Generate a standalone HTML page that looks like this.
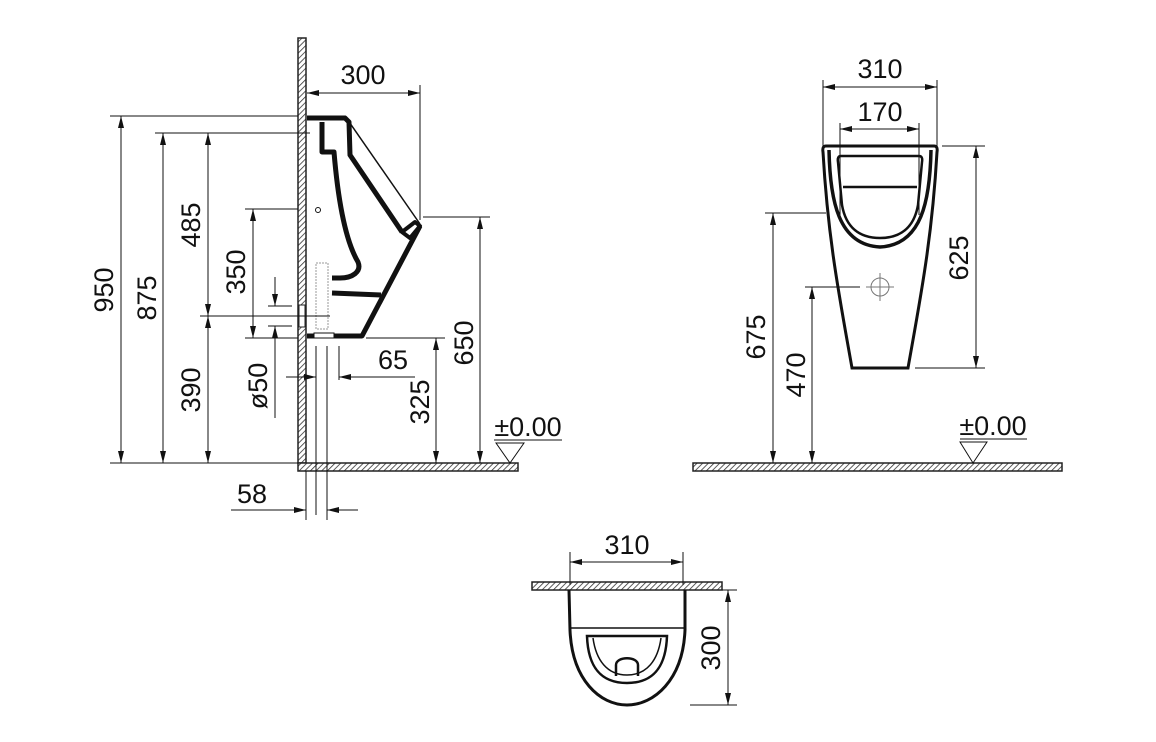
<!DOCTYPE html>
<html><head><meta charset="utf-8"><style>
html,body{margin:0;padding:0;background:#fff;}
svg{display:block;}
text{font-family:"Liberation Sans",sans-serif;font-size:27px;fill:#111;}
</style></head><body>
<svg width="1156" height="742" viewBox="0 0 1156 742" xmlns="http://www.w3.org/2000/svg">
<defs>
<pattern id="h" width="4" height="4" patternUnits="userSpaceOnUse" patternTransform="rotate(45)">
<rect width="4" height="4" fill="#fff"/><line x1="0" y1="0" x2="0" y2="4" stroke="#333" stroke-width="1.6"/></pattern>
<marker id="a" markerWidth="12" markerHeight="6" refX="12" refY="3" orient="auto-start-reverse" markerUnits="userSpaceOnUse">
<path d="M0,0 L12,3 L0,6 Z" fill="#111"/></marker>
</defs>
<g stroke="#111" fill="none" stroke-width="1">
<rect x="298" y="38" width="8" height="425" fill="url(#h)" stroke="#222" stroke-width="1.5"/>
<rect x="298" y="463" width="220" height="8" fill="url(#h)" stroke="#222" stroke-width="1.5"/>
<rect x="299" y="305" width="6" height="22" fill="#fff" stroke="#222"/>
<g stroke-width="5" stroke-linejoin="round">
<path d="M307,118 L345,118 L349,122 L350,155 L402,232"/>
<path d="M420,226 L362,336 L307,336"/>
<path d="M322,122 L322,152 L334,152 C338,200 345,240 358,262 C362,272 352,278 340,278 L332,278"/>
<path d="M332,293 L381,295"/>
<path d="M402,232 L415,222 L420,226 L410,238 Z" stroke-width="4"/>
</g>
<path d="M345,116 L420,224" stroke-width="1.5"/>
<circle cx="318" cy="210" r="2.5"/>
<rect x="316" y="263" width="12" height="66" stroke="#999" stroke-dasharray="2,1"/>
<rect x="314" y="333" width="20" height="5" fill="#fff"/>
<line x1="110" y1="116" x2="298" y2="116"/>
<line x1="155" y1="133" x2="310" y2="133"/>
<line x1="110" y1="463" x2="298" y2="463"/>
<line x1="121" y1="116" x2="121" y2="463" marker-start="url(#a)" marker-end="url(#a)"/>
<line x1="163" y1="133" x2="163" y2="463" marker-start="url(#a)" marker-end="url(#a)"/>
<line x1="208" y1="133" x2="208" y2="316" marker-start="url(#a)" marker-end="url(#a)"/>
<line x1="208" y1="316" x2="208" y2="463" marker-start="url(#a)" marker-end="url(#a)"/>
<line x1="200" y1="316" x2="330" y2="316"/>
<line x1="245" y1="209" x2="298" y2="209"/>
<line x1="245" y1="338" x2="298" y2="338"/>
<line x1="253" y1="209" x2="253" y2="338" marker-start="url(#a)" marker-end="url(#a)"/>
<line x1="268" y1="306" x2="292" y2="306"/>
<line x1="268" y1="326" x2="292" y2="326"/>
<line x1="275" y1="277" x2="275" y2="306" marker-end="url(#a)"/>
<line x1="275" y1="418" x2="275" y2="326" marker-end="url(#a)"/>
<line x1="307" y1="93" x2="420" y2="93" marker-start="url(#a)" marker-end="url(#a)"/>
<line x1="420" y1="85" x2="420" y2="220"/>
<line x1="423" y1="217" x2="490" y2="217"/>
<line x1="480" y1="217" x2="480" y2="463" marker-start="url(#a)" marker-end="url(#a)"/>
<line x1="366" y1="338" x2="445" y2="338"/>
<line x1="436" y1="338" x2="436" y2="463" marker-start="url(#a)" marker-end="url(#a)"/>
<line x1="316" y1="346" x2="316" y2="515"/>
<line x1="339" y1="346" x2="339" y2="380"/>
<line x1="327" y1="346" x2="327" y2="520"/>
<line x1="286" y1="377" x2="316" y2="377" marker-end="url(#a)"/>
<line x1="415" y1="377" x2="339" y2="377" marker-end="url(#a)"/>
<line x1="306" y1="471" x2="306" y2="520"/>
<line x1="231" y1="510" x2="306" y2="510" marker-end="url(#a)"/>
<line x1="358" y1="510" x2="327" y2="510" marker-end="url(#a)"/>
<line x1="494" y1="440" x2="562" y2="440"/>
<path d="M496,443 L524,443 L510,463 Z"/>
<rect x="693" y="463" width="369" height="8" fill="url(#h)" stroke="#222" stroke-width="1.5"/>
<path d="M826,146 L934,146 Q938,146 937,152 C932,240 920,300 908,368 L852,368 C840,300 828,240 823,152 Q822,146 826,146 Z" stroke-width="3"/>
<path d="M829,150 C830,200 838,245 880,247 C922,245 930,200 931,150" stroke-width="3.5"/>
<path d="M841,156 L919,156 Q923,156 922,162 L918,205 C914,228 900,238 880,238 C860,238 846,228 842,205 L838,162 Q837,156 841,156 Z" stroke-width="2.5"/>
<line x1="843" y1="187" x2="917" y2="187" stroke-width="2.5"/>
<circle cx="880" cy="287" r="9" stroke="#777"/>
<line x1="866" y1="287" x2="894" y2="287" stroke="#777"/>
<line x1="880" y1="273" x2="880" y2="301" stroke="#777"/>
<line x1="823" y1="80" x2="823" y2="146"/>
<line x1="937" y1="80" x2="937" y2="146"/>
<line x1="823" y1="87" x2="937" y2="87" marker-start="url(#a)" marker-end="url(#a)"/>
<line x1="840" y1="123" x2="840" y2="215"/>
<line x1="919" y1="123" x2="919" y2="215"/>
<line x1="840" y1="129" x2="919" y2="129" marker-start="url(#a)" marker-end="url(#a)"/>
<line x1="942" y1="146" x2="985" y2="146"/>
<line x1="915" y1="368" x2="985" y2="368"/>
<line x1="976" y1="146" x2="976" y2="368" marker-start="url(#a)" marker-end="url(#a)"/>
<line x1="765" y1="213" x2="826" y2="213"/>
<line x1="773" y1="213" x2="773" y2="463" marker-start="url(#a)" marker-end="url(#a)"/>
<line x1="805" y1="287" x2="860" y2="287"/>
<line x1="812" y1="287" x2="812" y2="463" marker-start="url(#a)" marker-end="url(#a)"/>
<line x1="960" y1="439" x2="1027" y2="439"/>
<path d="M960,442 L987,442 L973,463 Z"/>
<rect x="532" y="582" width="190" height="8" fill="url(#h)" stroke="#222" stroke-width="1.5"/>
<path d="M569,590 L570,630 C572,680 600,705 627,705 C654,705 683,680 685,630 L685,590" stroke-width="3"/>
<line x1="571" y1="628" x2="684" y2="628" stroke-width="1.5"/>
<path d="M587,636 L667,636 C666,665 655,683 627,683 C599,683 588,665 587,636 Z" stroke-width="2.5"/>
<path d="M593,638 C596,660 607,675 627,675 C647,675 658,660 661,638" stroke-width="1.5"/>
<path d="M616,676 L616,665 C616,656 638,656 638,665 L638,676" stroke-width="2.5"/>
<line x1="570" y1="552" x2="570" y2="585"/>
<line x1="683" y1="552" x2="683" y2="585"/>
<line x1="570" y1="562" x2="683" y2="562" marker-start="url(#a)" marker-end="url(#a)"/>
<line x1="722" y1="590" x2="737" y2="590"/>
<line x1="690" y1="705" x2="737" y2="705"/>
<line x1="728" y1="590" x2="728" y2="705" marker-start="url(#a)" marker-end="url(#a)"/>
</g>
<g>
<text x="363" y="84" text-anchor="middle">300</text>
<text transform="translate(113,290) rotate(-90)" text-anchor="middle">950</text>
<text transform="translate(156,298) rotate(-90)" text-anchor="middle">875</text>
<text transform="translate(200,225) rotate(-90)" text-anchor="middle">485</text>
<text transform="translate(200,390) rotate(-90)" text-anchor="middle">390</text>
<text transform="translate(245,272) rotate(-90)" text-anchor="middle">350</text>
<text transform="translate(267,386) rotate(-90)" text-anchor="middle">ø50</text>
<text transform="translate(429,402) rotate(-90)" text-anchor="middle">325</text>
<text transform="translate(473,343) rotate(-90)" text-anchor="middle">650</text>
<text x="393" y="369" text-anchor="middle">65</text>
<text x="252" y="503" text-anchor="middle">58</text>
<text x="528" y="436" text-anchor="middle">±0.00</text>
<text x="880" y="78" text-anchor="middle">310</text>
<text x="880" y="121" text-anchor="middle">170</text>
<text transform="translate(968,258) rotate(-90)" text-anchor="middle">625</text>
<text transform="translate(765,337) rotate(-90)" text-anchor="middle">675</text>
<text transform="translate(805,375) rotate(-90)" text-anchor="middle">470</text>
<text x="993" y="435" text-anchor="middle">±0.00</text>
<text x="627" y="554" text-anchor="middle">310</text>
<text transform="translate(720,648) rotate(-90)" text-anchor="middle">300</text>
</g>
</svg>
</body></html>
